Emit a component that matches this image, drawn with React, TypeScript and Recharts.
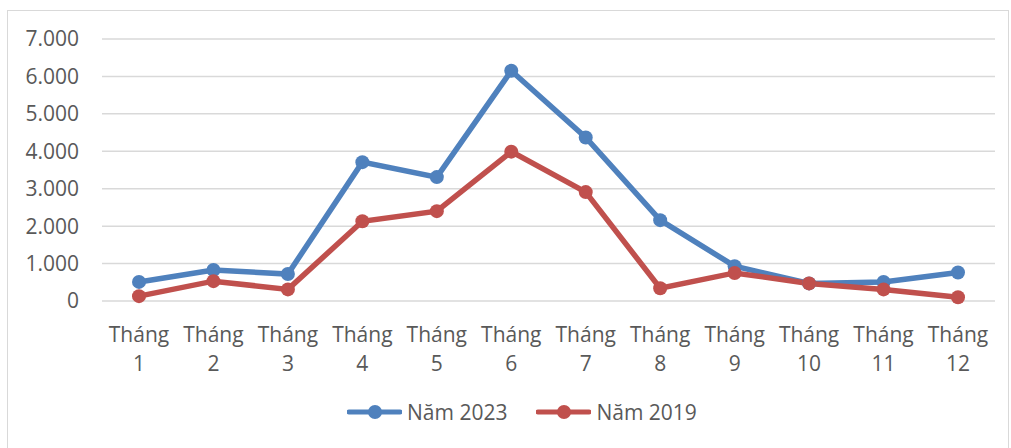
import { LineChart, Line, XAxis, YAxis, CartesianGrid, Legend } from 'recharts';

const months = ['1', '2', '3', '4', '5', '6', '7', '8', '9', '10', '11', '12'];
const nam2023 = [510, 830, 720, 3710, 3310, 6150, 4370, 2160, 930, 470, 510, 760];
const nam2019 = [130, 530, 310, 2130, 2400, 3990, 2910, 340, 750, 470, 310, 100];
const yTicks = [0, 1000, 2000, 3000, 4000, 5000, 6000, 7000];

const BLUE = '#4F81BD';
const RED = '#C0504D';
const TEXT = '#595959';
const FONT = '"Open Sans", "Liberation Sans", sans-serif';

const data = months.map((m, i) => ({ month: m, y2023: nam2023[i], y2019: nam2019[i] }));

const fmt = (v: number) => (v === 0 ? '0' : v.toLocaleString('de-DE'));

function MonthTick({ x, y, payload }: any) {
    return (
        <text x={x} y={y} textAnchor="middle" fill={TEXT} fontSize={21} fontFamily={FONT}>
            <tspan x={x} dy={33}>Tháng</tspan>
            <tspan x={x} dy={29}>{payload.value}</tspan>
        </text>
    );
}

function LegendItem({ color, label }: { color: string; label: string }) {
    return (
        <div style={{ display: 'flex', alignItems: 'center', marginRight: 29 }}>
            <svg width={55} height={16}>
                <line x1={2} y1={8} x2={53} y2={8} stroke={color} strokeWidth={5} strokeLinecap="round" />
                <circle cx={28} cy={8} r={7} fill={color} />
            </svg>
            <span style={{ marginLeft: 5, color: TEXT, fontSize: 21, fontFamily: FONT, whiteSpace: 'nowrap' }}>{label}</span>
        </div>
    );
}

function ChartLegend() {
    return (
        <div style={{ height: 30, display: 'flex', alignItems: 'center', paddingLeft: 339 }}>
            <LegendItem color={BLUE} label="Năm 2023" />
            <LegendItem color={RED} label="Năm 2019" />
        </div>
    );
}

export default function App() {
    return (
        <div
            style={{
                position: 'absolute',
                left: 7,
                top: 10,
                width: 1002,
                height: 445,
                border: '1px solid #D9D9D9',
                boxSizing: 'border-box',
                background: '#fff',
            }}
        >
            <LineChart width={1000} height={436} data={data} margin={{ top: 28, right: 13, bottom: 20, left: 0 }}>
                <CartesianGrid vertical={false} stroke="#D9D9D9" strokeWidth={1.5} />
                <XAxis
                    dataKey="month"
                    axisLine={false}
                    tickLine={false}
                    height={96}
                    interval={0}
                    padding={{ left: 37, right: 37 }}
                    tick={<MonthTick />}
                />
                <YAxis
                    width={94}
                    domain={[0, 7000]}
                    ticks={yTicks}
                    axisLine={false}
                    tickLine={false}
                    tickSize={0}
                    tickMargin={23}
                    tickFormatter={fmt}
                    tick={{ fill: TEXT, fontSize: 21, fontFamily: FONT }}
                />
                <Legend verticalAlign="bottom" content={<ChartLegend />} wrapperStyle={{ left: 0, width: 1000 }} />
                <Line
                    type="linear"
                    dataKey="y2023"
                    stroke={BLUE}
                    strokeWidth={5.5}
                    dot={{ r: 7, fill: BLUE, stroke: BLUE, strokeWidth: 0 }}
                    isAnimationActive={false}
                />
                <Line
                    type="linear"
                    dataKey="y2019"
                    stroke={RED}
                    strokeWidth={5.5}
                    dot={{ r: 7, fill: RED, stroke: RED, strokeWidth: 0 }}
                    isAnimationActive={false}
                />
            </LineChart>
        </div>
    );
}
